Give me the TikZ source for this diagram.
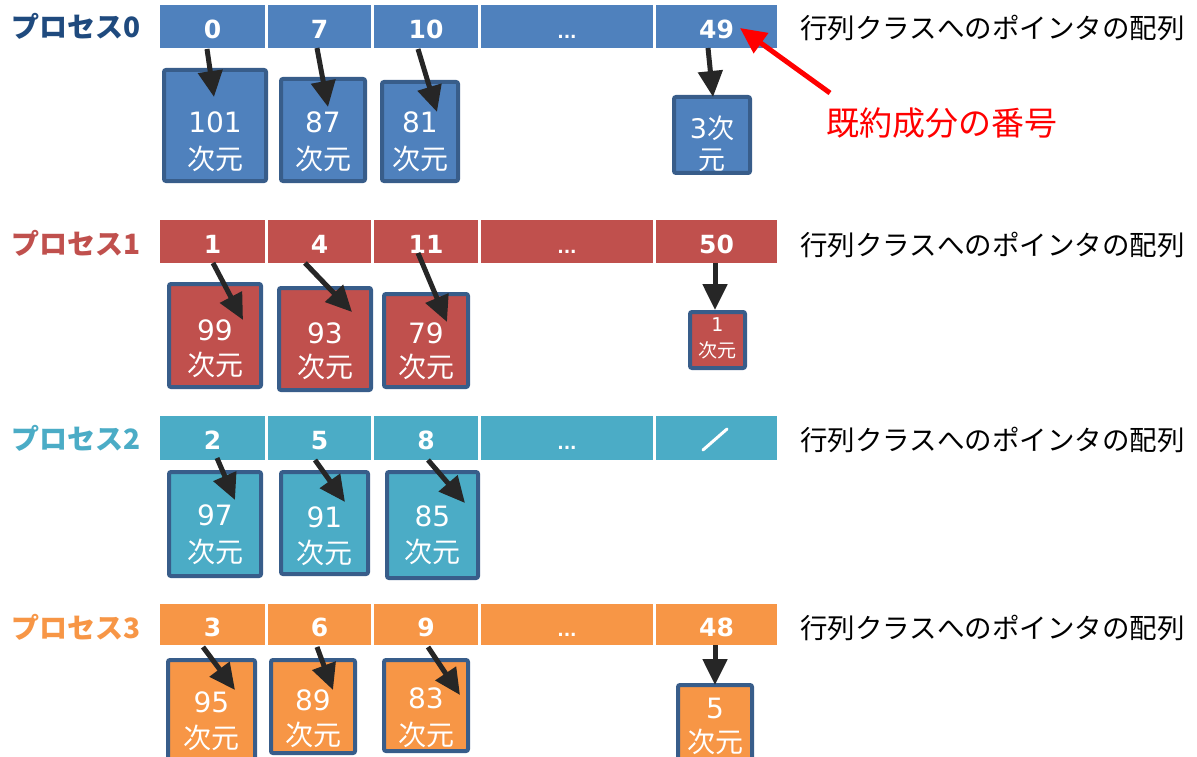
\documentclass[tikz,border=0pt]{standalone}
\usepackage{fontspec}
\setmainfont{Liberation Sans}
\newfontfamily\jp{Noto Sans CJK JP}
\newfontfamily\numf{DejaVu Sans}
\usetikzlibrary{arrows.meta}
\definecolor{cA}{HTML}{4F81BD}
\definecolor{cB}{HTML}{C0504D}
\definecolor{cC}{HTML}{4BACC6}
\definecolor{cD}{HTML}{F79646}
\definecolor{lblA}{HTML}{1F4A7E}
\definecolor{bordr}{HTML}{385D8A}
\definecolor{arrblack}{HTML}{262626}
\definecolor{hotred}{HTML}{FF0000}
\begin{document}
\begin{tikzpicture}[x=1pt,y=-1pt,
  cell/.style={draw=none, inner sep=0pt, text=white, text height=23.2pt, text depth=0pt,
    font=\numf\bfseries\fontsize{25}{28}\selectfont},
  dotcell/.style={cell, font=\numf\bfseries\fontsize{17}{20}\selectfont},
  matbox/.style={draw=bordr, line width=4pt, rounded corners=2pt, inner sep=0pt},
  boxtxt/.style={text=white, inner sep=0pt},
  ptr/.style={draw=arrblack, line width=5pt, -{Triangle[width=24pt,length=26pt]}},
  redptr/.style={draw=hotred, line width=5pt, -{Triangle[width=24pt,length=26pt]}},
  proclbl/.style={anchor=west, inner sep=0pt, font=\jp\bfseries\fontsize{28}{30}\selectfont},
  arrlbl/.style={anchor=west, inner sep=0pt, text=black, font=\jp\fontsize{27.5}{30}\selectfont},
  slash/.style={draw=white, line width=3pt, line cap=round}
]
\clip (0,0) rectangle (1197,757);
\fill[white] (0,0) rectangle (1197,757);

% ---------- array bars ----------
\foreach \r/\yc/\h/\fc/\ta/\tb/\tc/\te in {0/26.5/43/cA/0/7/10/49, 1/241.5/43/cB/1/4/11/50, 2/438/44/cC/2/5/8/{}, 3/624.5/41/cD/3/6/9/48}{
  \node[cell, fill=\fc, minimum width=105pt, minimum height=\h] (r\r c1) at (212.5,\yc) {\ta};
  \node[cell, fill=\fc, minimum width=103pt, minimum height=\h] (r\r c2) at (319.5,\yc) {\tb};
  \node[cell, fill=\fc, minimum width=104pt, minimum height=\h] (r\r c3) at (426,\yc) {\tc};
  \node[dotcell, fill=\fc, minimum width=172pt, minimum height=\h] (r\r c4) at (567,\yc) {...};
  \node[cell, fill=\fc, minimum width=121pt, minimum height=\h] (r\r c5) at (716.5,\yc) {\te};
}
\draw[slash] (703,450) -- (727,429);

% ---------- labels ----------
\node[proclbl, text=lblA] (p0) at (11,26) {プロセス0};
\node[proclbl, text=cB] (p1) at (11,243) {プロセス1};
\node[proclbl, text=cC] (p2) at (11,438) {プロセス2};
\node[proclbl, text=cD] (p3) at (11,627) {プロセス3};
\node[arrlbl] (l0) at (800,28) {行列クラスへのポインタの配列};
\node[arrlbl] (l1) at (800,245) {行列クラスへのポインタの配列};
\node[arrlbl] (l2) at (800,440) {行列クラスへのポインタの配列};
\node[arrlbl] (l3) at (800,628) {行列クラスへのポインタの配列};
\node[anchor=west, inner sep=0pt, text=hotred, font=\jp\fontsize{33}{36}\selectfont] (note) at (826,123) {既約成分の番号};

% ---------- matrix boxes ----------
\foreach \n/\xa/\ya/\xb/\yb/\fc/\ta/\yta/\tb/\ytb/\fs in {
  b01/162/68/268/183/cA/{\numf 101}/122/次元/159/28,
  b02/279/77/367/183/cA/{\numf 87}/122/次元/159/28,
  b03/380/80/460/183/cA/{\numf 81}/122/次元/159/28,
  b04/672/95/752/175/cA/{{\numf 3}次}/128/元/160/27,
  b11/167/282/263/389/cB/{\numf 99}/330/次元/365/28,
  b12/277/286/373/392/cB/{\numf 93}/333/次元/367/28,
  b13/382/292/470/389/cB/{\numf 79}/333/次元/367/28,
  b14/688/310/747/370/cB/{\numf 1}/325/次元/350/19,
  b21/167/470/263/578/cC/{\numf 97}/515/次元/552/28,
  b22/279/470/370/576/cC/{\numf 91}/517/次元/553/28,
  b23/385/470/480/580/cC/{\numf 85}/516/次元/552/28,
  b31/166/658/257/770/cD/{\numf 95}/702/次元/738/28,
  b32/269/658/357/755/cD/{\numf 89}/700/次元/735/28,
  b33/382/658/470/753/cD/{\numf 83}/698/次元/735/28,
  b34/676/683/754/770/cD/{\numf 5}/708/次元/742/28}{
  \node[matbox, fill=\fc, minimum width={\xb-\xa-4}, minimum height={\yb-\ya-4}] (\n) at ({(\xa+\xb)/2},{(\ya+\yb)/2}) {};
  \node[boxtxt, font=\jp\fontsize{\fs}{\fs}\selectfont] (\n-a) at ({(\xa+\xb)/2},\yta) {\ta};
  \node[boxtxt, font=\jp\fontsize{\fs}{\fs}\selectfont] (\n-b) at ({(\xa+\xb)/2},\ytb) {\tb};
}

% ---------- pointers ----------
\foreach \n/\sx/\sy/\tx/\ty in {
  01/207/49/214/97, 02/317/48/328/107, 03/418/49/437/112, 04/708/48/713/97,
  11/213/263/243/320, 12/305/263/352/312, 13/418/253/447/322, 14/715/263/715/310,
  21/217/458/235/500, 22/315/460/345/502, 23/428/460/465/503,
  31/203/647/235/690, 32/317/647/333/690, 33/428/647/460/695, 34/715/645/715/685}{
  \coordinate (s\n) at (\sx,\sy);
  \coordinate (t\n) at (\tx,\ty);
  \draw[ptr] (s\n) -- (t\n);
}
\coordinate (rs) at (830,93);
\coordinate (rt) at (740,28);
\draw[redptr] (rs) -- (rt);
\end{tikzpicture}
\end{document}
